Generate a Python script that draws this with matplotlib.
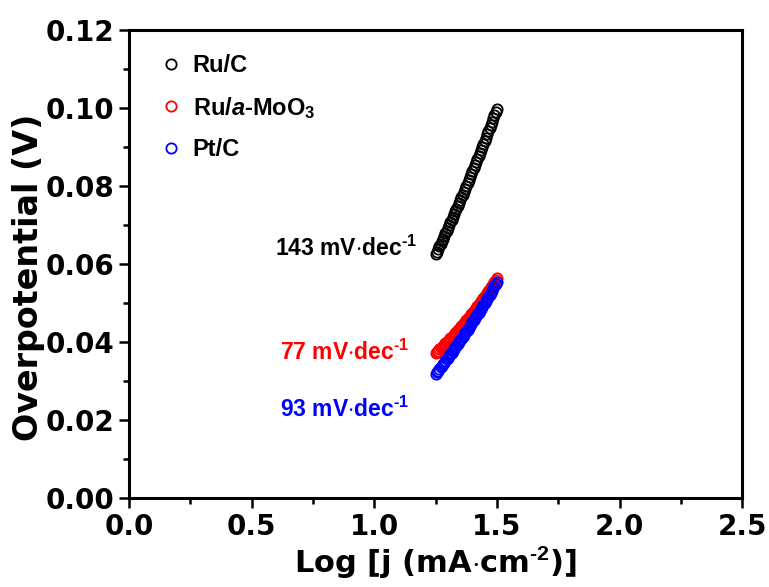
#Tafel plot of Ru/C, Ru/a-MoO3 and Pt/C
import numpy as np
import matplotlib.pyplot as plt

plt.rcParams['mathtext.fontset'] = 'custom'
plt.rcParams['mathtext.rm'] = 'Liberation Sans:bold'
plt.rcParams['mathtext.it'] = 'Liberation Sans:bold:italic'
plt.rcParams['mathtext.bf'] = 'Liberation Sans:bold'

#log current density (mA cm-2)
log_j = [1.250, 1.255, 1.260, 1.265, 1.270, 1.275, 1.280, 1.285, 1.290, 1.295,
         1.300, 1.305, 1.310, 1.315, 1.320, 1.325, 1.330, 1.335, 1.340, 1.345,
         1.350, 1.355, 1.360, 1.365, 1.370, 1.375, 1.380, 1.385, 1.390, 1.395,
         1.400, 1.405, 1.410, 1.415, 1.420, 1.425, 1.430, 1.435, 1.440, 1.445,
         1.450, 1.455, 1.460, 1.465, 1.470, 1.475, 1.480, 1.485, 1.490, 1.495,
         1.500]

#overpotential (V)
eta_ru_c = [0.06250, 0.06316, 0.06382, 0.06448, 0.06515, 0.06582, 0.06649, 0.06717,
            0.06785, 0.06854, 0.06922, 0.06992, 0.07061, 0.07131, 0.07202, 0.07272,
            0.07344, 0.07415, 0.07487, 0.07559, 0.07632, 0.07705, 0.07778, 0.07852,
            0.07926, 0.08000, 0.08075, 0.08150, 0.08226, 0.08301, 0.08378, 0.08454,
            0.08531, 0.08609, 0.08686, 0.08764, 0.08843, 0.08922, 0.09001, 0.09081,
            0.09160, 0.09241, 0.09321, 0.09402, 0.09484, 0.09566, 0.09648, 0.09730,
            0.09813, 0.09896, 0.09980]
eta_ru_moo3 = [0.03720, 0.03748, 0.03777, 0.03806, 0.03836, 0.03866, 0.03896, 0.03927,
               0.03958, 0.03990, 0.04022, 0.04054, 0.04087, 0.04120, 0.04154, 0.04188,
               0.04222, 0.04257, 0.04292, 0.04328, 0.04364, 0.04400, 0.04437, 0.04474,
               0.04512, 0.04550, 0.04588, 0.04627, 0.04666, 0.04706, 0.04746, 0.04786,
               0.04827, 0.04868, 0.04910, 0.04952, 0.04994, 0.05037, 0.05080, 0.05124,
               0.05168, 0.05212, 0.05257, 0.05302, 0.05348, 0.05394, 0.05440, 0.05487,
               0.05534, 0.05582, 0.05630]
eta_pt_c = [0.03180, 0.03220, 0.03261, 0.03301, 0.03342, 0.03384, 0.03425, 0.03467,
            0.03509, 0.03551, 0.03594, 0.03637, 0.03680, 0.03724, 0.03767, 0.03812,
            0.03856, 0.03901, 0.03945, 0.03991, 0.04036, 0.04082, 0.04128, 0.04174,
            0.04221, 0.04268, 0.04315, 0.04362, 0.04410, 0.04458, 0.04506, 0.04555,
            0.04603, 0.04653, 0.04702, 0.04752, 0.04801, 0.04852, 0.04902, 0.04953,
            0.05004, 0.05055, 0.05107, 0.05159, 0.05211, 0.05264, 0.05316, 0.05369,
            0.05423, 0.05476, 0.05530]

labels = ['Ru/C', r'Ru/$\mathit{a}$-MoO$_3$', 'Pt/C']
colors = ['black', 'red', 'blue']
slopes = [143, 77, 93]
slope_pos = [(0.595, 0.0641), (0.616, 0.0372), (0.616, 0.0226)]

fig = plt.figure(figsize=(7.69, 5.87), dpi=100)
ax = fig.add_axes([0.168, 0.152, 0.797, 0.797])

for eta, lab, c in zip([eta_ru_c, eta_ru_moo3, eta_pt_c], labels, colors):
    ax.plot(log_j, eta, 'o', mfc='none', mec=c, ms=7.4, mew=1.3, label=lab)

for s, (x, y), c in zip(slopes, slope_pos, colors):
    ax.text(x, y, r'%d mV$\cdot$dec$^{\text{-1}}$' % s, color=c, fontsize=16.5,
            family='Liberation Sans', fontweight='bold', ha='left', va='center')

ax.set_xlim(0, 2.5)
ax.set_ylim(0, 0.12)
ax.set_xticks(np.arange(0, 2.51, 0.5))
ax.set_xticks(np.arange(0.25, 2.5, 0.5), minor=True)
ax.set_yticks(np.arange(0, 0.121, 0.02))
ax.set_yticks(np.arange(0.01, 0.12, 0.02), minor=True)
ax.xaxis.set_major_formatter(plt.FormatStrFormatter('%.1f'))
ax.yaxis.set_major_formatter(plt.FormatStrFormatter('%.2f'))

ax.tick_params(which='major', direction='out', length=7, width=1.8, labelsize=20, pad=4)
ax.tick_params(which='minor', direction='out', length=4.5, width=1.8)
for lab in ax.get_xticklabels() + ax.get_yticklabels():
    lab.set_fontweight('bold')
    lab.set_family('DejaVu Sans')
for sp in ax.spines.values():
    sp.set_linewidth(2.2)

ax.set_xlabel(r'Log [j (mA$\cdot$cm$^{\text{-2}}$)]', fontsize=22,
              family='DejaVu Sans', fontweight='bold', labelpad=2)
ax.set_ylabel('Overpotential (V)', fontsize=24, family='DejaVu Sans',
              fontweight='bold')
ax.yaxis.set_label_coords(-0.138, 0.472)

leg = ax.legend(loc='upper left', bbox_to_anchor=(0.034, 0.974), frameon=False,
                borderpad=0, handlelength=0.8, handletextpad=0.5, labelspacing=0.75,
                prop={'family': 'Liberation Sans', 'weight': 'bold', 'size': 17})

plt.savefig('out.png', dpi=100)
